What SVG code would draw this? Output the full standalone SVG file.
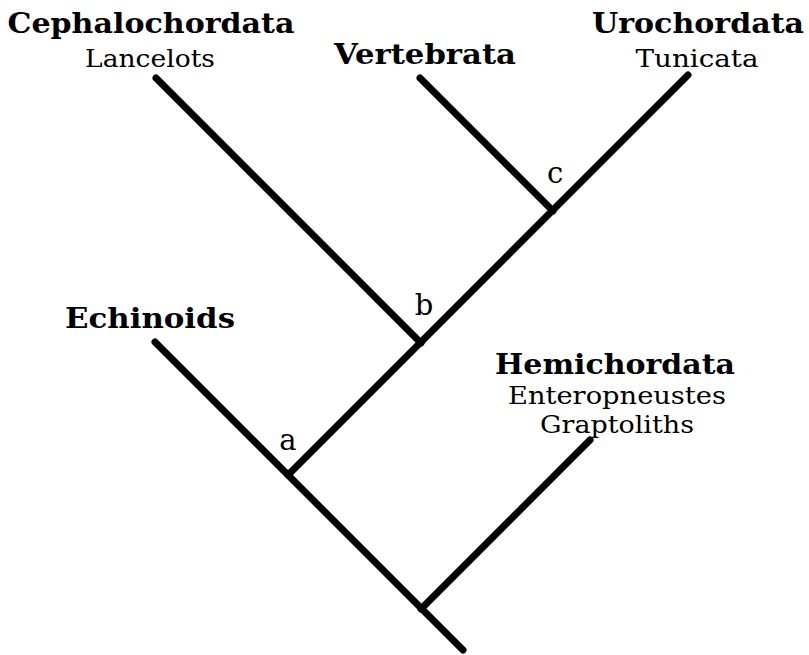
<svg xmlns="http://www.w3.org/2000/svg" width="809" height="655" viewBox="0 0 809 655">
<style>
.b{font-family:"DejaVu Serif","Liberation Serif",serif;font-weight:bold;font-size:28px;fill:#000;text-anchor:middle}
.r{font-family:"DejaVu Serif","Liberation Serif",serif;font-size:25px;fill:#000;text-anchor:middle}
.l{font-family:"DejaVu Serif","Liberation Serif",serif;font-size:29px;fill:#000;text-anchor:middle}
.e{stroke:#000;stroke-width:7;stroke-linecap:round;fill:none}
</style>
<rect width="809" height="655" fill="#fff"/>
<g id="connectors">
<line class="e" x1="155" y1="342" x2="463" y2="650"/>
<line class="e" x1="288" y1="475" x2="688" y2="75"/>
<line class="e" x1="156" y1="78" x2="421" y2="343"/>
<line class="e" x1="420" y1="78" x2="553" y2="211"/>
<line class="e" x1="421" y1="609" x2="590" y2="440"/>
</g>
<g id="cephalochordata"><text class="b" x="151" y="33" textLength="287" lengthAdjust="spacingAndGlyphs">Cephalochordata</text><text class="r" x="150" y="67" textLength="130" lengthAdjust="spacingAndGlyphs">Lancelots</text></g>
<g id="vertebrata"><text class="b" x="425" y="64" textLength="182" lengthAdjust="spacingAndGlyphs">Vertebrata</text></g>
<g id="urochordata"><text class="b" x="698" y="33" textLength="212" lengthAdjust="spacingAndGlyphs">Urochordata</text><text class="r" x="697" y="67" textLength="123" lengthAdjust="spacingAndGlyphs">Tunicata</text></g>
<g id="echinoids"><text class="b" x="150" y="328" textLength="170" lengthAdjust="spacingAndGlyphs">Echinoids</text></g>
<g id="hemichordata"><text class="b" x="615" y="374" textLength="240" lengthAdjust="spacingAndGlyphs">Hemichordata</text><text class="r" x="617" y="404" textLength="218" lengthAdjust="spacingAndGlyphs">Enteropneustes</text><text class="r" x="617" y="433" textLength="154" lengthAdjust="spacingAndGlyphs">Graptoliths</text></g>
<g id="node-a"><text class="l" x="288" y="450">a</text></g>
<g id="node-b"><text class="l" x="424" y="315">b</text></g>
<g id="node-c"><text class="l" x="555" y="183">c</text></g>
</svg>
